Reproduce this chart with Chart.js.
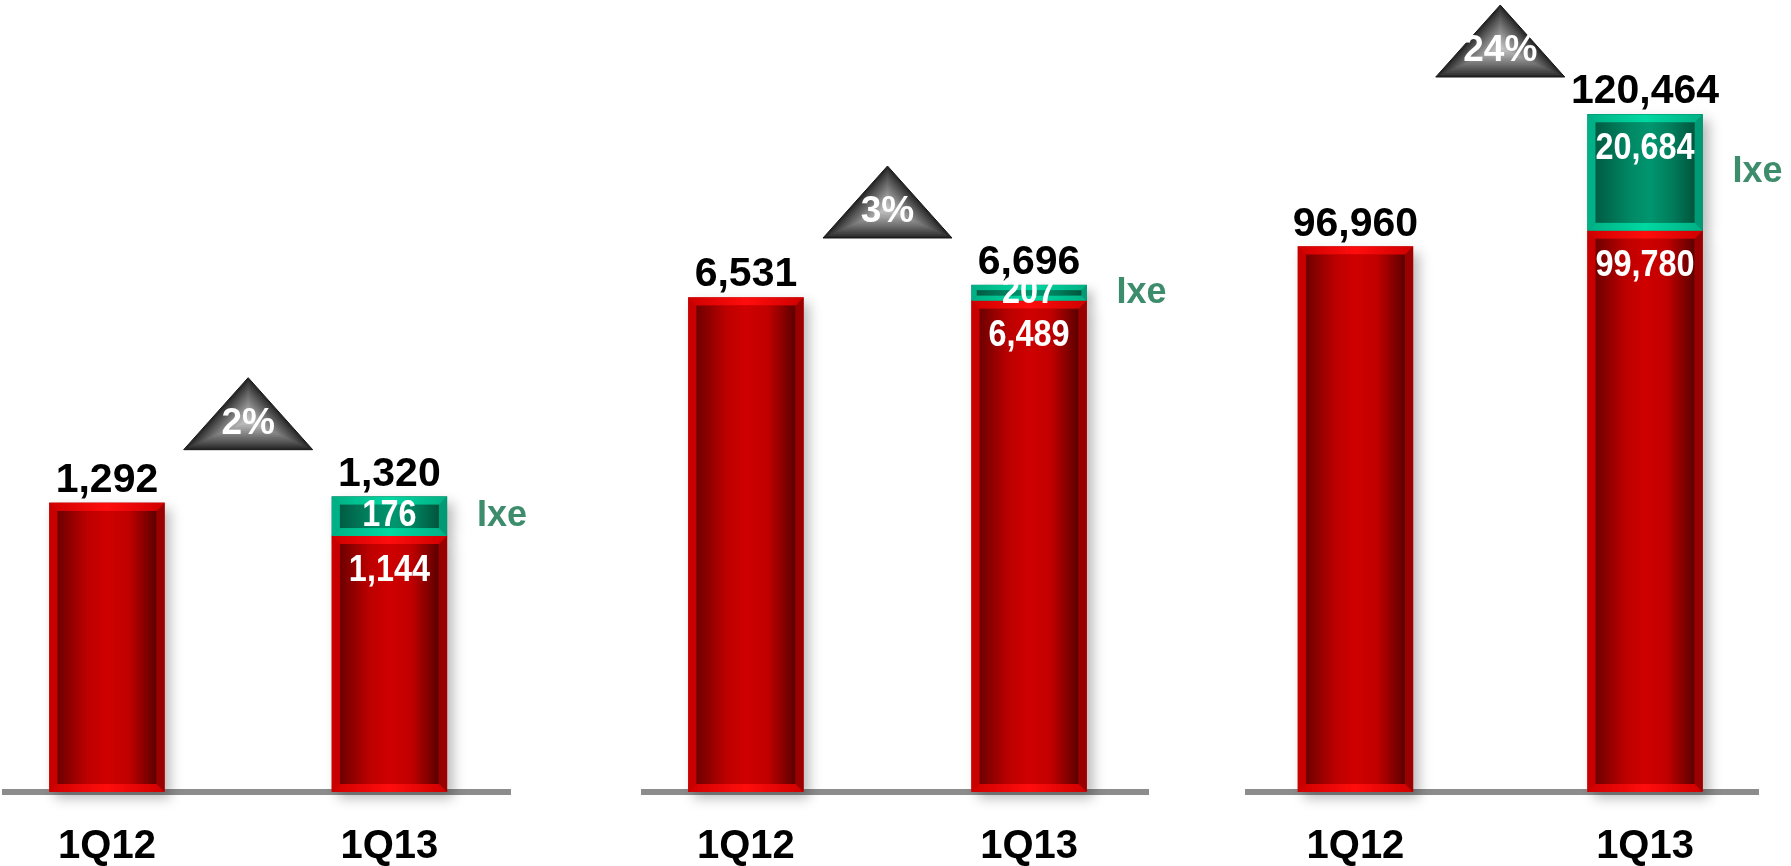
<!DOCTYPE html>
<html>
<head>
<meta charset="utf-8">
<script src="https://cdn.jsdelivr.net/npm/chart.js@4.4.1/dist/chart.umd.min.js"></script>
<style>
  html, body { margin: 0; padding: 0; background: #fff; }
  #wrap { position: relative; width: 1791px; height: 866px; }
  #wrap canvas { position: absolute; left: 0; top: 0; }
</style>
</head>
<body>
<div id="wrap">
  <canvas id="c1" width="1791" height="866"></canvas>
  <canvas id="c2" width="1791" height="866"></canvas>
  <canvas id="c3" width="1791" height="866"></canvas>
</div>
<script>
const quarters = ["1Q12", "1Q13"];

// three portfolio blocks: organic part + Ixe contribution
const baseA = [1292, 1144];
const ixeA = [null, 176];
const baseB = [6531, 6489];
const ixeB = [null, 207];
const baseC = [96960, 99780];
const ixeC = [null, 20684];

const FONT = "'Liberation Sans', Arial, sans-serif";
const fmt = v => v.toLocaleString("en-US");

// where each block sits on the page and how tall its value axis is
const panels = [
  { id: "c1", base: baseA, ixe: ixeA, left: 5, right: 510, xMin: -0.361, xMax: 1.427, yMax: 3540 },
  { id: "c2", base: baseB, ixe: ixeB, left: 644, right: 1148, xMin: -0.360, xMax: 1.420, yMax: 10460 },
  { id: "c3", base: baseC, ixe: ixeC, left: 1248, right: 1758, xMin: -0.371, xMax: 1.390, yMax: 140800 }
];

const redPaint = {
  left: "#c80000", right: "#990000", cap: "#ff0d0d", capEdge: "#cf0000",
  face: [[0, "#6e0000"], [0.3, "#bd0000"], [0.5, "#cf0000"], [0.72, "#c10000"], [1, "#5c0000"]]
};
const greenPaint = {
  left: "#00b187", right: "#009a74", cap: "#00d8a2", capEdge: "#00b084",
  face: [[0, "#005c43"], [0.35, "#008864"], [0.55, "#00966f"], [0.78, "#007b5a"], [1, "#00553d"]]
};

function poly(ctx, pts) {
  ctx.beginPath();
  ctx.moveTo(pts[0][0], pts[0][1]);
  for (let k = 1; k < pts.length; k++) ctx.lineTo(pts[k][0], pts[k][1]);
  ctx.closePath();
  ctx.fill();
}

function barBox(el) {
  const p = el.getProps(["x", "y", "base", "width"], true);
  return {
    cx: p.x,
    x0: p.x - p.width / 2, x1: p.x + p.width / 2,
    y0: Math.min(p.y, p.base), y1: Math.max(p.y, p.base)
  };
}

// bevelled block: four frame strips round a shaded face
function paintBar(ctx, b, pal) {
  const { x0, x1, y0, y1 } = b;
  const e = Math.min(8, (y1 - y0) / 3);
  ctx.save();
  ctx.fillStyle = pal.left;
  poly(ctx, [[x0, y0], [x0 + e, y0 + e], [x0 + e, y1 - e], [x0, y1]]);
  ctx.fillStyle = pal.right;
  poly(ctx, [[x1, y0], [x1 - e, y0 + e], [x1 - e, y1 - e], [x1, y1]]);
  const hl = ctx.createLinearGradient(x0, 0, x1, 0);
  hl.addColorStop(0, pal.capEdge);
  hl.addColorStop(0.5, pal.cap);
  hl.addColorStop(1, pal.capEdge);
  ctx.fillStyle = hl;
  poly(ctx, [[x0, y0], [x1, y0], [x1 - e, y0 + e], [x0 + e, y0 + e]]);
  poly(ctx, [[x0, y1], [x1, y1], [x1 - e, y1 - e], [x0 + e, y1 - e]]);
  const face = ctx.createLinearGradient(x0 + e, 0, x1 - e, 0);
  pal.face.forEach(([s, c]) => face.addColorStop(s, c));
  ctx.fillStyle = face;
  ctx.fillRect(x0 + e, y0 + e, x1 - x0 - 2 * e, y1 - y0 - 2 * e);
  ctx.restore();
}

// stepped grey pyramid with the growth figure
function pyramid(ctx, cx, baseY, w, h, label) {
  const apex = [cx, baseY - h], L = [cx - w / 2, baseY], R = [cx + w / 2, baseY];
  const side = Math.hypot(w / 2, h);
  const r = (w * h / 2) / ((w + 2 * side) / 2);
  const ic = [cx, baseY - r];
  const steps = 14;
  ctx.save();
  for (let k = 0; k < steps; k++) {
    const f = 1 - k / steps;
    const g = Math.round(40 + 156 * Math.pow(k / (steps - 1), 0.9));
    ctx.fillStyle = `rgb(${g},${g},${g})`;
    poly(ctx, [apex, L, R].map(p => [ic[0] + (p[0] - ic[0]) * f, ic[1] + (p[1] - ic[1]) * f]));
  }
  ctx.strokeStyle = "#151515";
  ctx.lineWidth = 1;
  ctx.beginPath();
  ctx.moveTo(apex[0], apex[1]); ctx.lineTo(L[0], L[1]); ctx.lineTo(R[0], R[1]); ctx.closePath();
  ctx.stroke();
  ctx.fillStyle = "#ffffff";
  ctx.font = `bold 37px ${FONT}`;
  ctx.textAlign = "center";
  ctx.textBaseline = "middle";
  ctx.fillText(label, cx, baseY - 26);
  ctx.restore();
}

function narrowText(ctx, txt, x, y, size, color) {
  ctx.save();
  ctx.translate(x, y);
  ctx.scale(0.9, 1);
  ctx.fillStyle = color;
  ctx.font = `bold ${size}px ${FONT}`;
  ctx.textAlign = "center";
  ctx.textBaseline = "middle";
  ctx.fillText(txt, 0, 0);
  ctx.restore();
}

const decoPlugin = {
  id: "deco",
  beforeDatasetsDraw(chart) {
    const ctx = chart.ctx;
    ctx.save();
    ctx.shadowColor = "rgba(0,0,0,0.28)";
    ctx.shadowBlur = 12;
    ctx.shadowOffsetX = 6;
    ctx.shadowOffsetY = 6;
    ctx.fillStyle = "#ffffff";
    chart.data.datasets.forEach((ds, d) => {
      chart.getDatasetMeta(d).data.forEach((el, i) => {
        if (ds.data[i].y == null) return;
        const b = barBox(el);
        ctx.fillRect(b.x0, b.y0, b.x1 - b.x0, b.y1 - b.y0);
      });
    });
    ctx.restore();
  },
  afterDatasetsDraw(chart) {
    const ctx = chart.ctx;
    const yS = chart.scales.y;
    const sets = chart.data.datasets;
    const stacks = quarters.map((q, i) => {
      const segs = [];
      sets.forEach((ds, d) => {
        const v = ds.data[i].y;
        if (v != null) segs.push({ v, d, box: barBox(chart.getDatasetMeta(d).data[i]) });
      });
      return segs;
    });

    stacks.forEach(segs => segs.forEach(s => paintBar(ctx, s.box, s.d === 0 ? redPaint : greenPaint)));

    const totals = stacks.map(segs => segs.reduce((a, s) => a + s.v, 0));
    ctx.save();
    stacks.forEach((segs, i) => {
      const top = yS.getPixelForValue(totals[i]);
      ctx.fillStyle = "#000";
      ctx.font = `bold 41px ${FONT}`;
      ctx.textAlign = "center";
      ctx.textBaseline = "alphabetic";
      ctx.fillText(fmt(totals[i]), segs[0].box.cx, top - 11);

      if (segs.length > 1) {
        segs.forEach(s => {
          const h = s.box.y1 - s.box.y0;
          narrowText(ctx, fmt(s.v), s.box.cx, s.box.y0 + Math.min(h / 2, 35), 36, "#ffffff");
        });
        const last = segs[segs.length - 1];
        ctx.fillStyle = "#3d8d6d";
        ctx.font = `bold 36px ${FONT}`;
        ctx.textAlign = "left";
        ctx.textBaseline = "middle";
        ctx.fillText(sets[last.d].label, last.box.x1 + 30, (last.box.y0 + last.box.y1) / 2);
      }
    });
    ctx.restore();

    // growth marker sits above the taller stack, kept inside the canvas
    const pct = Math.round((totals[1] / totals[0] - 1) * 100) + "%";
    const mx = (stacks[0][0].box.cx + stacks[1][0].box.cx) / 2;
    const labelTop = yS.getPixelForValue(Math.max(...totals)) - 11 - 30;
    const baseY = Math.max(72 + 5, labelTop - 6);
    pyramid(ctx, mx, baseY, 129, 72, pct);
  }
};

panels.forEach(p => {
  new Chart(document.getElementById(p.id), {
    type: "bar",
    data: {
      datasets: [
        { label: "Base", stack: "q", data: p.base.map((v, i) => ({ x: i, y: v })), backgroundColor: "#c00000" },
        { label: "Ixe", stack: "q", data: p.ixe.map((v, i) => ({ x: i, y: v })), backgroundColor: "#008a66" }
      ]
    },
    options: {
      responsive: false,
      animation: false,
      barThickness: 115,
      layout: { padding: { left: p.left, right: 1791 - p.right, top: 0, bottom: -36 } },
      plugins: { legend: { display: false }, tooltip: { enabled: false } },
      scales: {
        x: {
          type: "linear",
          offset: false,
          min: p.xMin,
          max: p.xMax,
          grid: { display: false, drawTicks: false, offset: false },
          border: { display: true, color: "#8c8c8c", width: 6 },
          afterBuildTicks: s => { s.ticks = quarters.map((q, i) => ({ value: i })); },
          ticks: {
            autoSkip: false,
            maxRotation: 0,
            padding: 31,
            color: "#000",
            font: { family: FONT, size: 40, weight: "bold", lineHeight: 1.2 },
            callback: v => quarters[v] ?? ""
          }
        },
        y: { stacked: true, display: false, min: 0, max: p.yMax }
      }
    },
    plugins: [decoPlugin]
  });
});
</script>
</body>
</html>
